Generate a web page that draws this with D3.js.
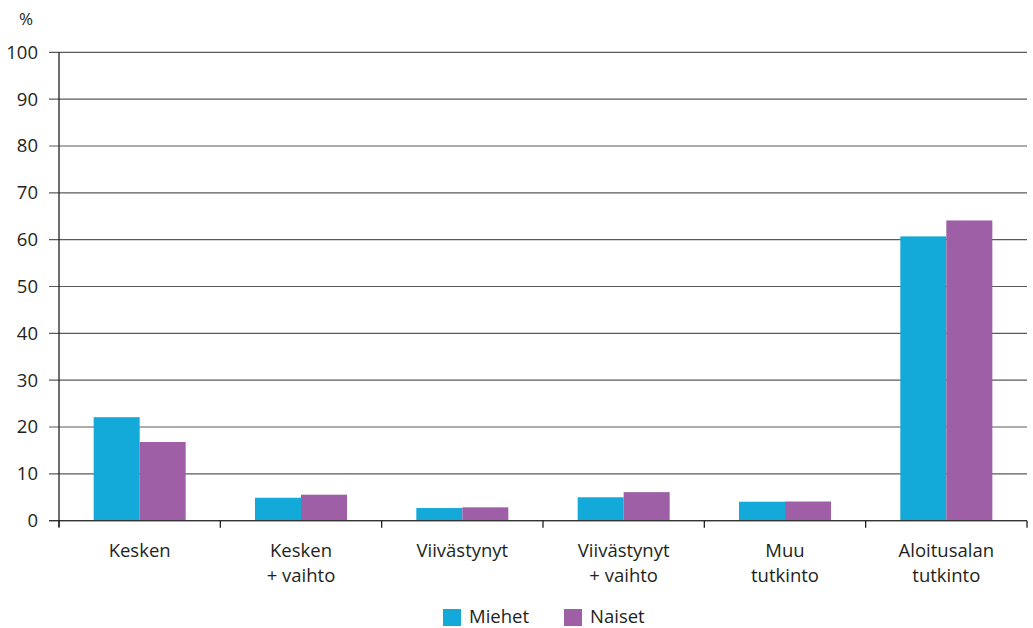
<!DOCTYPE html>
<html><head><meta charset="utf-8">
<script src="https://cdn.jsdelivr.net/npm/d3@7"></script>
<style>body{margin:0;background:#fff;} text{font-family:"Open Sans","Lato",sans-serif;fill:#231f20;}</style>
</head><body>
<svg id="c" width="1033" height="628"></svg>
<script>
const categories = [["Kesken"],["Kesken","+ vaihto"],["Viivästynyt"],["Viivästynyt","+ vaihto"],["Muu","tutkinto"],["Aloitusalan","tutkinto"]];
const seriesNames = ["Miehet","Naiset"];
const miehet = [22.1, 4.9, 2.7, 5.0, 4.05, 60.7];
const naiset = [16.8, 5.55, 2.85, 6.1, 4.1, 64.1];
const yTicks = [0,10,20,30,40,50,60,70,80,90,100];
const colors = ["#13a9d9","#9e5fa6"];

(function(){
const svg = d3.select("#c");
const mL = 59, mR = 1027, mT = 52.3, mB = 520.7;
const x = d3.scaleBand().domain(d3.range(categories.length)).range([mL,mR]);
const y = d3.scaleLinear().domain([0,100]).range([mB,mT]);
const barW = 46;

svg.append("g").selectAll("line").data(yTicks).join("line")
  .attr("x1",49).attr("x2",mR).attr("y1",d=>y(d)).attr("y2",d=>y(d))
  .attr("stroke","#5a5a5a").attr("stroke-width",1.2);

svg.append("g").selectAll("text").data(yTicks).join("text")
  .attr("x",38).attr("y",d=>y(d)).attr("dy","0.35em").attr("text-anchor","end")
  .attr("font-size",18.5).text(d=>d);
svg.append("text").attr("x",26).attr("y",25).attr("text-anchor","middle").attr("font-size",17).text("%");

const series = [miehet,naiset];
series.forEach((vals,si)=>{
  svg.append("g").selectAll("rect").data(vals).join("rect")
    .attr("x",(d,i)=>x(i)+x.bandwidth()/2 - barW + si*barW)
    .attr("y",d=>y(d)).attr("width",barW).attr("height",d=>y(0)-y(d))
    .attr("fill",colors[si]);
});

svg.append("line").attr("x1",49).attr("x2",mR).attr("y1",y(0)).attr("y2",y(0)).attr("stroke","#333").attr("stroke-width",1.3);
svg.append("line").attr("x1",mL).attr("x2",mL).attr("y1",mT).attr("y2",y(0)+6).attr("stroke","#231f20").attr("stroke-width",1.3);
const tickXs = d3.range(categories.length+1).map(i=> i<categories.length ? x(i) : mR);
svg.append("g").selectAll("line").data(tickXs).join("line")
  .attr("x1",d=>d).attr("x2",d=>d).attr("y1",y(0)).attr("y2",y(0)+7)
  .attr("stroke","#231f20").attr("stroke-width",1.3);

categories.forEach((lines,i)=>{
  const cx = x(i)+x.bandwidth()/2;
  const t = svg.append("text").attr("x",cx).attr("y",557).attr("text-anchor","middle").attr("font-size",18.5);
  lines.forEach((l,j)=>t.append("tspan").attr("x",cx).attr("dy",j===0?0:25).text(l));
});

const legX = [443,564];
seriesNames.forEach((n,i)=>{
  svg.append("rect").attr("x",legX[i]).attr("y",609).attr("width",18).attr("height",17).attr("fill",colors[i]);
  svg.append("text").attr("x",legX[i]+26).attr("y",623).attr("font-size",18.5).text(n);
});
})();
</script>
</body></html>
